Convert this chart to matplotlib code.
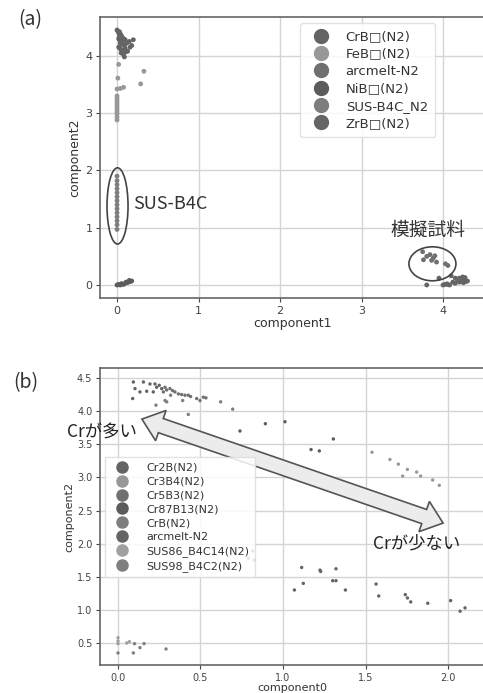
import numpy as np
import matplotlib
matplotlib.use('Agg')
import matplotlib.pyplot as plt
from matplotlib.patches import Ellipse, Polygon
from matplotlib.lines import Line2D
from matplotlib.transforms import IdentityTransform

plt.rcParams['font.family'] = ['DejaVu Sans', 'Noto Sans CJK JP']
JP = ['Noto Sans CJK JP', 'DejaVu Sans']

# grayscale versions of the tab10 colours
GRAYS = ['#646464', '#989898', '#707070', '#5c5c5c', '#7e7e7e', '#656565', '#a0a0a0', '#7f7f7f']

# ---------------- panel (a) data ----------------
a_labels = ['CrB\u25a1(N2)', 'FeB\u25a1(N2)', 'arcmelt-N2', 'NiB\u25a1(N2)', 'SUS-B4C_N2', 'ZrB\u25a1(N2)']

crb_x = [0.00, 0.01, 0.02, 0.03, 0.04, 0.05, 0.06, 0.02, 0.03, 0.05, 0.07, 0.08, 0.10, 0.04, 0.06, 0.09,
         0.12, 0.15, 0.02, 0.04, 0.07, 0.10, 0.13, 0.18, 0.20, 0.05, 0.08, 0.11, 0.09, 0.16, 0.03, 0.06]
crb_y = [4.45, 4.43, 4.40, 4.42, 4.38, 4.36, 4.33, 4.30, 4.28, 4.27, 4.25, 4.30, 4.28, 4.22, 4.20, 4.18,
         4.22, 4.25, 4.15, 4.12, 4.10, 4.13, 4.08, 4.18, 4.28, 4.05, 4.02, 4.07, 3.98, 4.15, 4.35, 4.32]
feb_x = [0, 0, 0, 0, 0, 0, 0, 0, 0, 0, 0, 0.02, 0.01, 0.04, 0.08, 0.0, 0.33, 0.29]
feb_y = [2.88, 2.93, 2.98, 3.02, 3.06, 3.10, 3.14, 3.18, 3.22, 3.26, 3.30, 3.85, 3.61, 3.43, 3.45, 3.42, 3.73, 3.51]
arc_x = [3.75, 3.76, 3.80, 3.84, 3.86, 3.88, 3.90, 3.92, 4.03, 4.06]
arc_y = [0.58, 0.44, 0.50, 0.53, 0.43, 0.47, 0.51, 0.40, 0.37, 0.34]
nib_x = [0, 0.02, 0.04, 0.06, 0.08, 0.10, 0.12, 0.14, 0.16, 0.18, 0.05, 0.11, 0.15]
nib_y = [0.00, 0.01, 0.00, 0.02, 0.01, 0.03, 0.04, 0.05, 0.06, 0.07, 0.02, 0.05, 0.08]
sus_x = [0] * 14
sus_y = [0.97, 1.05, 1.12, 1.19, 1.26, 1.33, 1.40, 1.47, 1.54, 1.61, 1.68, 1.75, 1.82, 1.90]
zrb_x = [3.80, 3.95, 4.00, 4.02, 4.05, 4.08, 4.10, 4.12, 4.15, 4.18, 4.20, 4.22, 4.24, 4.26, 4.28, 4.30,
         4.05, 4.15, 4.25, 4.20, 4.27]
zrb_y = [0.00, 0.12, 0.00, 0.01, 0.02, 0.00, 0.16, 0.05, 0.03, 0.08, 0.12, 0.09, 0.14, 0.10, 0.06, 0.07,
         0.01, 0.12, 0.04, 0.05, 0.13]
a_series = [(crb_x, crb_y), (feb_x, feb_y), (arc_x, arc_y), (nib_x, nib_y), (sus_x, sus_y), (zrb_x, zrb_y)]

# ---------------- panel (b) data ----------------
b_labels = ['Cr2B(N2)', 'Cr3B4(N2)', 'Cr5B3(N2)', 'Cr87B13(N2)', 'CrB(N2)', 'arcmelt-N2',
            'SUS86_B4C14(N2)', 'SUS98_B4C2(N2)']

cr2b_x = [0.093, 0.103, 0.089, 0.154, 0.133, 0.174, 0.194, 0.214, 0.224, 0.234, 0.25, 0.265]
cr2b_y = [4.44, 4.34, 4.19, 4.44, 4.29, 4.30, 4.41, 4.29, 4.41, 4.36, 4.39, 4.34]
cr3b4_x = [1.539, 1.648, 1.699, 1.754, 1.725, 1.81, 1.834, 1.907, 1.947]
cr3b4_y = [3.38, 3.27, 3.20, 3.12, 3.02, 3.08, 3.02, 2.96, 2.88]
cr5b3_x = [0.275, 0.285, 0.295, 0.315, 0.331, 0.345, 0.366, 0.386, 0.406, 0.426, 0.44, 0.477, 0.497, 0.517, 0.533]
cr5b3_y = [4.29, 4.36, 4.32, 4.34, 4.31, 4.29, 4.26, 4.25, 4.24, 4.24, 4.22, 4.19, 4.16, 4.21, 4.20]
cr87_x = [0.739, 0.893, 1.012, 1.305, 1.17, 1.22]
cr87_y = [3.70, 3.81, 3.84, 3.58, 3.42, 3.40]
crb2_x = [0.23, 0.285, 0.295, 0.319, 0.392, 0.426, 0.622, 0.695]
crb2_y = [4.09, 4.16, 4.14, 4.24, 4.16, 3.95, 4.14, 4.03]
arcb_x = [0.79, 0.816, 0.826, 1.113, 1.069, 1.123, 1.224, 1.228, 1.321, 1.301, 1.321, 1.378, 1.564, 1.58,
          1.741, 1.754, 1.774, 1.877, 2.016, 2.073, 2.103]
arcb_y = [1.78, 1.89, 1.75, 1.64, 1.30, 1.40, 1.60, 1.58, 1.62, 1.44, 1.44, 1.30, 1.39, 1.21,
          1.23, 1.18, 1.12, 1.10, 1.14, 0.98, 1.03]
sus86_x = [0, 0, 0, 0.053, 0.069]
sus86_y = [0.58, 0.53, 0.49, 0.50, 0.52]
sus98_x = [0, 0.10, 0.093, 0.133, 0.158, 0.291]
sus98_y = [0.35, 0.49, 0.35, 0.43, 0.49, 0.41]
b_series = [(cr2b_x, cr2b_y), (cr3b4_x, cr3b4_y), (cr5b3_x, cr5b3_y), (cr87_x, cr87_y),
            (crb2_x, crb2_y), (arcb_x, arcb_y), (sus86_x, sus86_y), (sus98_x, sus98_y)]

W, H = 483, 693
fig = plt.figure(figsize=(W / 100, H / 100), dpi=100)


def style_axes(ax, tick_size):
    ax.grid(True, color='#d4d4d4', lw=1.0)
    ax.set_axisbelow(True)
    for s in ax.spines.values():
        s.set_color('#666666')
        s.set_linewidth(1.2)
    ax.tick_params(labelsize=tick_size, colors='#444444', length=3, width=0.8, pad=2.5)


# ---------------- panel (a) ----------------
axa = fig.add_axes([100 / W, 1 - 298 / H, 385 / W, 281 / H])
style_axes(axa, 8)
for (xs, ys), c in zip(a_series, GRAYS):
    axa.scatter(xs, ys, s=12, color=c, edgecolors='none', zorder=3)
axa.set_xlim(-0.209, 4.515)
axa.set_ylim(-0.227, 4.677)
axa.set_xticks([0, 1, 2, 3, 4])
axa.set_yticks([0, 1, 2, 3, 4])
axa.set_xlabel('component1', fontsize=9, color='#333333', labelpad=1)
axa.set_ylabel('component2', fontsize=9, color='#333333', labelpad=3)

handles = [Line2D([], [], ls='none', marker='o', markersize=10, color=c) for c in GRAYS[:6]]
lga = axa.legend(handles, a_labels, loc='upper left', bbox_to_anchor=(0.52, 0.979), borderaxespad=0,
                 fontsize=9.5, labelspacing=0.33, handletextpad=0.9, borderpad=0.55, framealpha=0.85,
                 edgecolor='#dddddd', fancybox=True)
for t in lga.get_texts():
    t.set_color('#333333')

axa.add_patch(Ellipse((0.006, 1.38), 0.258, 1.33, fill=False, ec='#444444', lw=1.2, zorder=4))
axa.text(0.196, 1.41, 'SUS-B4C', fontsize=13, va='center', ha='left', family=JP, color='#333333')
axa.add_patch(Ellipse((3.87, 0.37), 0.577, 0.593, fill=False, ec='#444444', lw=1.2, zorder=4))
axa.text(3.82, 0.96, '模擬試料', fontsize=13.5, va='center', ha='center', family=JP, color='#333333')

fig.text(30 / W, 1 - 20 / H, '(a)', fontsize=14, ha='center', va='center', family=JP, color='#333333')

# ---------------- panel (b) ----------------
axb = fig.add_axes([100 / W, 1 - 665 / H, 385 / W, 297 / H])
style_axes(axb, 7)
for (xs, ys), c in zip(b_series, GRAYS):
    axb.scatter(xs, ys, s=6, color=c, edgecolors='none', zorder=3)
axb.set_xlim(-0.109, 2.224)
axb.set_ylim(0.168, 4.651)
axb.set_xticks([0.0, 0.5, 1.0, 1.5, 2.0])
axb.set_yticks([0.5, 1.0, 1.5, 2.0, 2.5, 3.0, 3.5, 4.0, 4.5])
axb.set_xlabel('component0', fontsize=8, color='#333333', labelpad=0)
axb.set_ylabel('component2', fontsize=8, color='#333333', labelpad=2)

handles = [Line2D([], [], ls='none', marker='o', markersize=8, color=c) for c in GRAYS]
lgb = axb.legend(handles, b_labels, loc='upper left', bbox_to_anchor=(0.013, 0.70), borderaxespad=0,
                 fontsize=8, labelspacing=0.35, handletextpad=1.2, borderpad=0.5, framealpha=0.85,
                 edgecolor='#dddddd', fancybox=False)
for t in lgb.get_texts():
    t.set_color('#333333')

# double-headed block arrow, built in display pixels
p0 = axb.transData.transform((0.145, 3.88))
p1 = axb.transData.transform((1.97, 2.31))
u = (p1 - p0) / np.hypot(*(p1 - p0))
n = np.array([-u[1], u[0]])
hl, hw, sw = 20, 32, 15
verts = [p0, p0 + u * hl + n * hw / 2, p0 + u * hl + n * sw / 2, p1 - u * hl + n * sw / 2,
         p1 - u * hl + n * hw / 2, p1, p1 - u * hl - n * hw / 2, p1 - u * hl - n * sw / 2,
         p0 + u * hl - n * sw / 2, p0 + u * hl - n * hw / 2]
axb.add_patch(Polygon(verts, closed=True, fc='#ececec', ec='#555555', lw=1.2,
                      transform=IdentityTransform(), zorder=5))

fig.text(67 / W, 1 - 433 / H, 'Crが多い', fontsize=12.5, ha='left', va='center', family=JP,
         color='#222222', zorder=6)
fig.text(373 / W, 1 - 543 / H, 'Crが少ない', fontsize=12.5, ha='left', va='center', family=JP,
         color='#222222', zorder=6)
fig.text(26 / W, 1 - 383 / H, '(b)', fontsize=14, ha='center', va='center', family=JP, color='#333333')

fig.savefig('out.png', dpi=100)
